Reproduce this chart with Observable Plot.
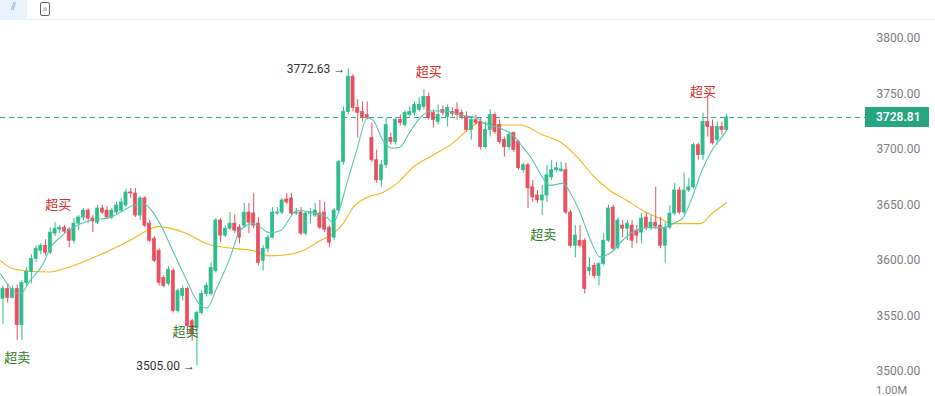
<!DOCTYPE html>
<html>
<head>
<meta charset="utf-8">
<script src="https://cdn.jsdelivr.net/npm/d3@7"></script>
<script src="https://cdn.jsdelivr.net/npm/@observablehq/plot@0.6"></script>
<style>
  html, body { margin: 0; padding: 0; background: #fff; overflow: hidden; }
  #toolbar { height: 19px; border-bottom: 1px solid #eef0f2; position: relative; font-family: "DejaVu Sans", sans-serif; }
  #toolbar .sel { position: absolute; left: 0; top: 0; width: 27px; height: 19px; background: #e9f3fc; color: #5b9bd5; font-size: 11px; text-align: center; line-height: 14px; }
  #toolbar .box { position: absolute; left: 40px; top: 2px; width: 8px; height: 12px; border: 1px solid #666; border-radius: 2px; font-size: 7px; line-height: 12px; text-align: center; color: #666; }
</style>
</head>
<body>
<div id="toolbar"><div class="sel">⫽</div><div class="box">ıı</div></div>
<div id="chart"></div>
<script>
// ---- Candle data (index order, oldest first) ----
const open = [3565.3,3574.3,3566.2,3574.3,3541.7,3579.8,3589.7,3601.5,3608.8,3613.3,
3607.0,3624.2,3627.8,3629.6,3627.8,3617.8,3633.2,3638.7,3645.0,3637.8,
3634.1,3646.8,3645.0,3638.7,3643.2,3645.0,3649.6,3661.3,3660.4,3640.5,
3655.9,3633.2,3619.6,3608.8,3584.3,3578.9,3590.6,3554.4,3568.0,3574.3,
3545.3,3539.0,3552.6,3569.8,3569.8,3590.6,3636.0,3622.4,3628.7,3633.2,
3629.6,3631.4,3643.2,3642.3,3633.2,3599.7,3610.6,3620.6,3642.3,3643.2,
3655.0,3655.9,3642.3,3643.2,3624.2,3642.3,3640.5,3642.3,3643.2,3629.6,
3620.6,3645.0,3688.5,3733.8,3765.6,3737.5,3733.8,3731.1,3710.3,3690.3,
3672.2,3685.8,3710.3,3706.7,3726.6,3722.1,3731.1,3732.9,3735.7,3738.4,
3747.4,3732.9,3724.8,3735.7,3729.3,3733.8,3735.7,3732.9,3729.3,3717.5,
3726.6,3724.8,3702.1,3717.5,3731.1,3722.1,3708.5,3702.1,3714.8,3706.7,
3681.3,3685.8,3665.9,3658.6,3654.1,3658.6,3674.9,3681.3,3680.4,3681.3,
3643.2,3613.3,3617.8,3617.8,3590.6,3595.2,3586.1,3597.0,3617.8,3647.7,
3611.5,3631.4,3628.7,3631.4,3626.9,3625.1,3638.7,3629.6,3634.1,3631.4,
3613.3,3629.6,3642.3,3663.1,3643.2,3663.1,3665.9,3703.9,3694.9,3724.8,
3720.2,3708.5,3720.2,3717.5];
const high = [3577.0,3578.9,3577.0,3578.0,3581.6,3593.4,3605.2,3613.3,3615.1,3618.7,
3629.6,3634.1,3631.4,3631.4,3629.6,3637.8,3640.5,3646.8,3646.8,3640.5,
3649.6,3649.6,3648.7,3646.8,3652.3,3655.9,3664.1,3665.0,3665.0,3657.7,
3657.7,3636.0,3621.5,3610.6,3586.1,3594.3,3592.5,3574.3,3577.0,3576.1,
3547.1,3554.4,3572.5,3579.8,3597.9,3637.8,3637.8,3631.4,3643.2,3641.4,
3632.3,3651.4,3651.4,3660.4,3638.7,3613.3,3622.4,3647.7,3647.7,3655.9,
3660.4,3660.4,3646.8,3647.7,3644.1,3646.8,3651.4,3654.1,3652.3,3631.4,
3646.8,3690.3,3738.4,3772.63,3767.4,3744.7,3742.9,3742.9,3723.9,3699.4,
3690.3,3728.4,3714.8,3728.4,3731.1,3734.8,3738.4,3742.9,3746.5,3753.8,
3751.0,3735.7,3740.2,3739.3,3740.2,3737.5,3742.0,3735.7,3733.8,3729.3,
3731.1,3728.4,3724.8,3735.7,3732.9,3726.6,3711.2,3715.7,3715.7,3708.5,
3687.6,3687.6,3672.2,3663.1,3667.7,3685.8,3690.3,3688.5,3688.5,3687.6,
3645.0,3631.4,3631.4,3619.6,3602.4,3597.9,3597.9,3624.2,3649.6,3649.6,
3638.7,3636.0,3636.0,3636.0,3631.4,3642.3,3643.2,3640.5,3665.9,3638.7,
3634.1,3649.6,3669.5,3665.9,3678.6,3674.0,3705.7,3705.7,3732.9,3747.4,
3726.6,3724.8,3724.8,3732.0];
const low = [3542.6,3561.6,3565.3,3528.1,3528.1,3577.0,3578.9,3597.9,3605.2,3604.2,
3605.2,3621.5,3624.2,3624.2,3611.5,3615.1,3626.9,3636.0,3633.2,3625.1,
3632.3,3641.4,3636.9,3636.9,3641.4,3643.2,3647.7,3655.9,3638.7,3636.0,
3629.6,3616.0,3597.9,3577.0,3575.2,3577.0,3552.6,3552.6,3563.5,3533.5,
3527.2,3505.0,3550.8,3567.1,3568.0,3588.8,3616.0,3620.6,3626.9,3624.2,
3615.1,3629.6,3624.2,3628.7,3595.2,3590.6,3607.0,3619.6,3640.5,3641.4,
3650.5,3640.5,3640.5,3622.4,3622.4,3633.2,3638.7,3627.8,3625.1,3611.5,
3617.8,3643.2,3685.8,3731.1,3733.8,3710.3,3724.8,3726.6,3688.5,3669.5,
3665.9,3683.1,3703.9,3703.9,3721.2,3720.2,3729.3,3730.2,3733.8,3735.7,
3726.6,3719.3,3722.1,3730.2,3720.2,3729.3,3726.6,3726.6,3715.7,3708.5,
3722.1,3699.4,3700.3,3711.2,3713.9,3704.8,3693.1,3699.4,3697.6,3681.3,
3678.6,3646.8,3652.3,3651.4,3640.5,3652.3,3672.2,3679.5,3679.5,3641.4,
3611.5,3602.4,3611.5,3569.8,3586.1,3583.4,3577.0,3595.2,3616.0,3608.8,
3609.7,3620.6,3617.8,3610.6,3615.1,3615.1,3626.9,3626.9,3627.8,3610.6,
3597.9,3627.8,3640.5,3641.4,3641.4,3661.3,3664.1,3690.3,3690.3,3711.2,
3703.9,3703.9,3713.0,3717.5];
const close = [3574.3,3566.2,3574.3,3541.7,3579.8,3589.7,3601.5,3610.6,3613.3,3607.0,
3625.1,3628.7,3629.6,3626.0,3617.8,3633.2,3638.7,3645.0,3637.8,3635.1,
3646.8,3643.2,3638.7,3645.0,3649.6,3652.3,3661.3,3660.4,3640.5,3655.9,
3631.4,3617.8,3599.7,3579.8,3577.0,3591.6,3554.4,3572.5,3574.3,3540.8,
3533.5,3552.6,3569.8,3577.0,3593.4,3636.0,3622.4,3628.7,3633.2,3626.9,
3620.6,3643.2,3634.1,3631.4,3597.9,3610.6,3620.6,3643.2,3643.2,3654.1,
3652.3,3642.3,3643.2,3624.2,3642.3,3643.2,3645.0,3629.6,3627.8,3616.0,
3645.0,3688.5,3733.8,3765.6,3737.5,3732.9,3729.3,3728.4,3690.3,3672.2,
3685.8,3722.0,3706.7,3726.6,3723.9,3732.9,3733.8,3740.2,3740.2,3747.4,
3728.4,3726.6,3731.1,3732.9,3737.5,3732.0,3731.1,3729.3,3717.5,3726.6,
3723.9,3702.1,3717.5,3731.1,3715.7,3706.7,3702.1,3713.0,3699.4,3683.1,
3685.8,3665.0,3656.8,3654.1,3658.6,3676.7,3681.3,3683.1,3682.0,3643.2,
3613.3,3622.4,3613.3,3574.3,3593.4,3586.1,3597.0,3617.8,3646.8,3610.6,
3636.0,3628.7,3633.2,3617.8,3622.4,3637.8,3629.6,3634.1,3630.5,3613.3,
3629.6,3642.3,3663.1,3643.2,3663.1,3665.9,3703.9,3694.9,3724.8,3720.2,
3705.7,3720.2,3717.5,3728.81];

// ---- Moving-average lines at candle positions ----
const fastMaIdx = [-0.5,3.6,5.7,8.5,9.9,12,14.8,18.4,22.6,24.7,27.5,29.6,31.1,33.2,35.9,38.9,41,43.1,45.2,48,
50.1,52.9,56.4,58.6,62.2,65.5,68.5,69.8,71.2,72.7,74.8,77,78.2,80.3,82.2,83.9,86,88.2,90.3,93.9,
96.6,100.2,101.5,105.1,107.8,109.9,112,113.5,115.6,118.4,119.9,122,124.1,126.2,129,130.9,133.6,136.4,139.3,142.1,
143.8,145.7,147.8,149.9,152,153];
const fastMaVal = [3587.9,3569.8,3581.6,3597.0,3610.6,3620.6,3629.6,3636.0,3638.7,3643.2,3649.6,3651.4,3646.8,3633.2,3608.8,3581.6,3563.5,3557.1,3575.2,3602.4,
3626.9,3633.2,3625.1,3626.9,3645.0,3643.2,3638.7,3634.1,3646.8,3669.5,3699.4,3728.4,3726.6,3708.5,3701.2,3702.1,3715.7,3728.4,3734.7,3734.7,
3731.1,3728.4,3723.9,3719.3,3713.0,3702.1,3690.3,3678.6,3667.7,3669.5,3661.3,3643.2,3619.6,3603.3,3608.8,3617.8,3626.9,3629.6,3629.6,3634.1,
3638.7,3656.8,3681.3,3699.4,3711.2,3717.5];
const slowMaIdx = [-0.5,2.1,5.1,9.9,13.5,19,23.3,27.5,30.4,32.6,34.7,38.9,43.1,47.4,52.9,56.4,60,63.4,67,69.8,
71.9,74,77,80.3,83.3,86.7,90.9,95.1,98.7,100.8,104.4,109.3,114.2,117.8,121.4,124.7,128.3,131.9,135.3,138.9,
141.6,147.4,149.9,153];
const slowMaVal = [3599.7,3592.5,3590.6,3589.7,3593.4,3602.4,3610.6,3619.6,3626.9,3630.5,3629.6,3624.2,3615.1,3611.5,3608.8,3604.2,3605.2,3608.8,3617.8,3624.2,
3633.2,3647.7,3656.8,3661.3,3669.5,3684.0,3694.9,3705.7,3719.3,3724.8,3722.1,3722.1,3713.0,3706.7,3693.1,3676.7,3663.1,3654.1,3645.0,3637.8,
3633.2,3633.2,3642.3,3652.3];

// ---- Signal labels (anchored at candle index / price) ----
const buyLabelIdx = [11.7, 90, 148];
const buyLabelPrice = [3650.5, 3770.3, 3752.3];
const sellLabelIdx = [3, 38.6, 114.2];
const sellLabelPrice = [3512.2, 3536.0, 3623.4];
const buyText = "超买";
const sellText = "超卖";

// extremes
const highIdx = 73;
const lowIdx = 41;

// axis ticks
const yTicks = [3500, 3550, 3600, 3650, 3700, 3750, 3800];
const volumeLabel = "1.00M";

// ---- styles ----
const UP = "#2ebd8c";
const DOWN = "#e9505f";
const FAST = "#52c9b3";
const SLOW = "#f2b51c";
const LAST = "#27a57f";
const LASTLINE = "#2aa896";

const candles = open.map((o, i) => ({i, o, h: high[i], l: low[i], c: close[i], col: close[i] >= o ? UP : DOWN}));
const fastMa = fastMaIdx.map((i, k) => ({i, v: fastMaVal[k]}));
const slowMa = slowMaIdx.map((i, k) => ({i, v: slowMaVal[k]}));
const buys = buyLabelIdx.map((i, k) => ({i, v: buyLabelPrice[k]}));
const sells = sellLabelIdx.map((i, k) => ({i, v: sellLabelPrice[k]}));
const lastClose = close[close.length - 1];

const W = 935, H = 376, MR = 70;
const plot = Plot.plot({
  width: W,
  height: H,
  marginTop: 18,
  marginBottom: 25,
  marginLeft: 0,
  marginRight: MR,
  style: {fontFamily: "Roboto, 'Noto Sans', sans-serif", background: "#fff", overflow: "visible"},
  x: {domain: [-0.5285, 182.35], axis: null},
  y: {domain: [3500, 3800], axis: null},
  color: {type: "identity"},
  marks: [
    Plot.axisY({anchor: "right", ticks: yTicks, tickFormat: d => d.toFixed(2), tickSize: 0, tickPadding: 11, color: "#7d7d7d", fontSize: 12}),
    Plot.line(slowMa, {x: "i", y: "v", stroke: SLOW, strokeWidth: 1.1, curve: "monotone-x"}),
    Plot.ruleY([lastClose], {stroke: LASTLINE, strokeWidth: 1, strokeDasharray: "5,4"}),
    Plot.ruleX(candles, {x: "i", y1: "l", y2: "h", stroke: "col", strokeWidth: 1}),
    Plot.rect(candles, {x1: d => d.i - 0.33, x2: d => d.i + 0.33, y1: "o", y2: "c", fill: "col", stroke: "col", strokeWidth: 0.7}),
    Plot.line(fastMa, {x: "i", y: "v", stroke: FAST, strokeWidth: 1.1, curve: "monotone-x"}),
    Plot.text(buys, {x: "i", y: "v", text: () => buyText, fill: "#dd2a22", fontSize: 13, fontFamily: "'Noto Sans CJK SC', sans-serif"}),
    Plot.text(sells, {x: "i", y: "v", text: () => sellText, fill: "#2f7d1c", fontSize: 13, fontFamily: "'Noto Sans CJK SC', sans-serif"}),
    Plot.text([highIdx], {x: d => d, y: d => high[d], text: d => `${high[d].toFixed(2)} →`, textAnchor: "end", dx: -3, fill: "#333", fontSize: 12}),
    Plot.text([lowIdx], {x: d => d, y: d => low[d], text: d => `${low[d].toFixed(2)} →`, textAnchor: "end", dx: -2, fill: "#333", fontSize: 12})
  ]
});
document.getElementById("chart").appendChild(plot);

// last-price tag on the right axis, placed through the plot's y scale
const svg = d3.select(plot);
const yPos = plot.scale("y").apply(lastClose);
const tag = svg.append("g").attr("text-anchor", "start");
tag.append("rect").attr("x", W - MR).attr("y", yPos - 10).attr("width", 64).attr("height", 20).attr("fill", LAST);
tag.append("text").attr("x", W - MR + 11).attr("y", yPos).attr("dy", "0.35em")
  .attr("fill", "#fff").attr("font-size", 12).attr("font-weight", 600)
  .attr("font-family", "Roboto, sans-serif").text(lastClose.toFixed(2));
svg.append("text").attr("text-anchor", "start").attr("x", W - MR + 11).attr("y", H - 2).attr("fill", "#7d7d7d")
  .attr("font-size", 11).attr("font-family", "Roboto, sans-serif").text(volumeLabel);
</script>
</body>
</html>
